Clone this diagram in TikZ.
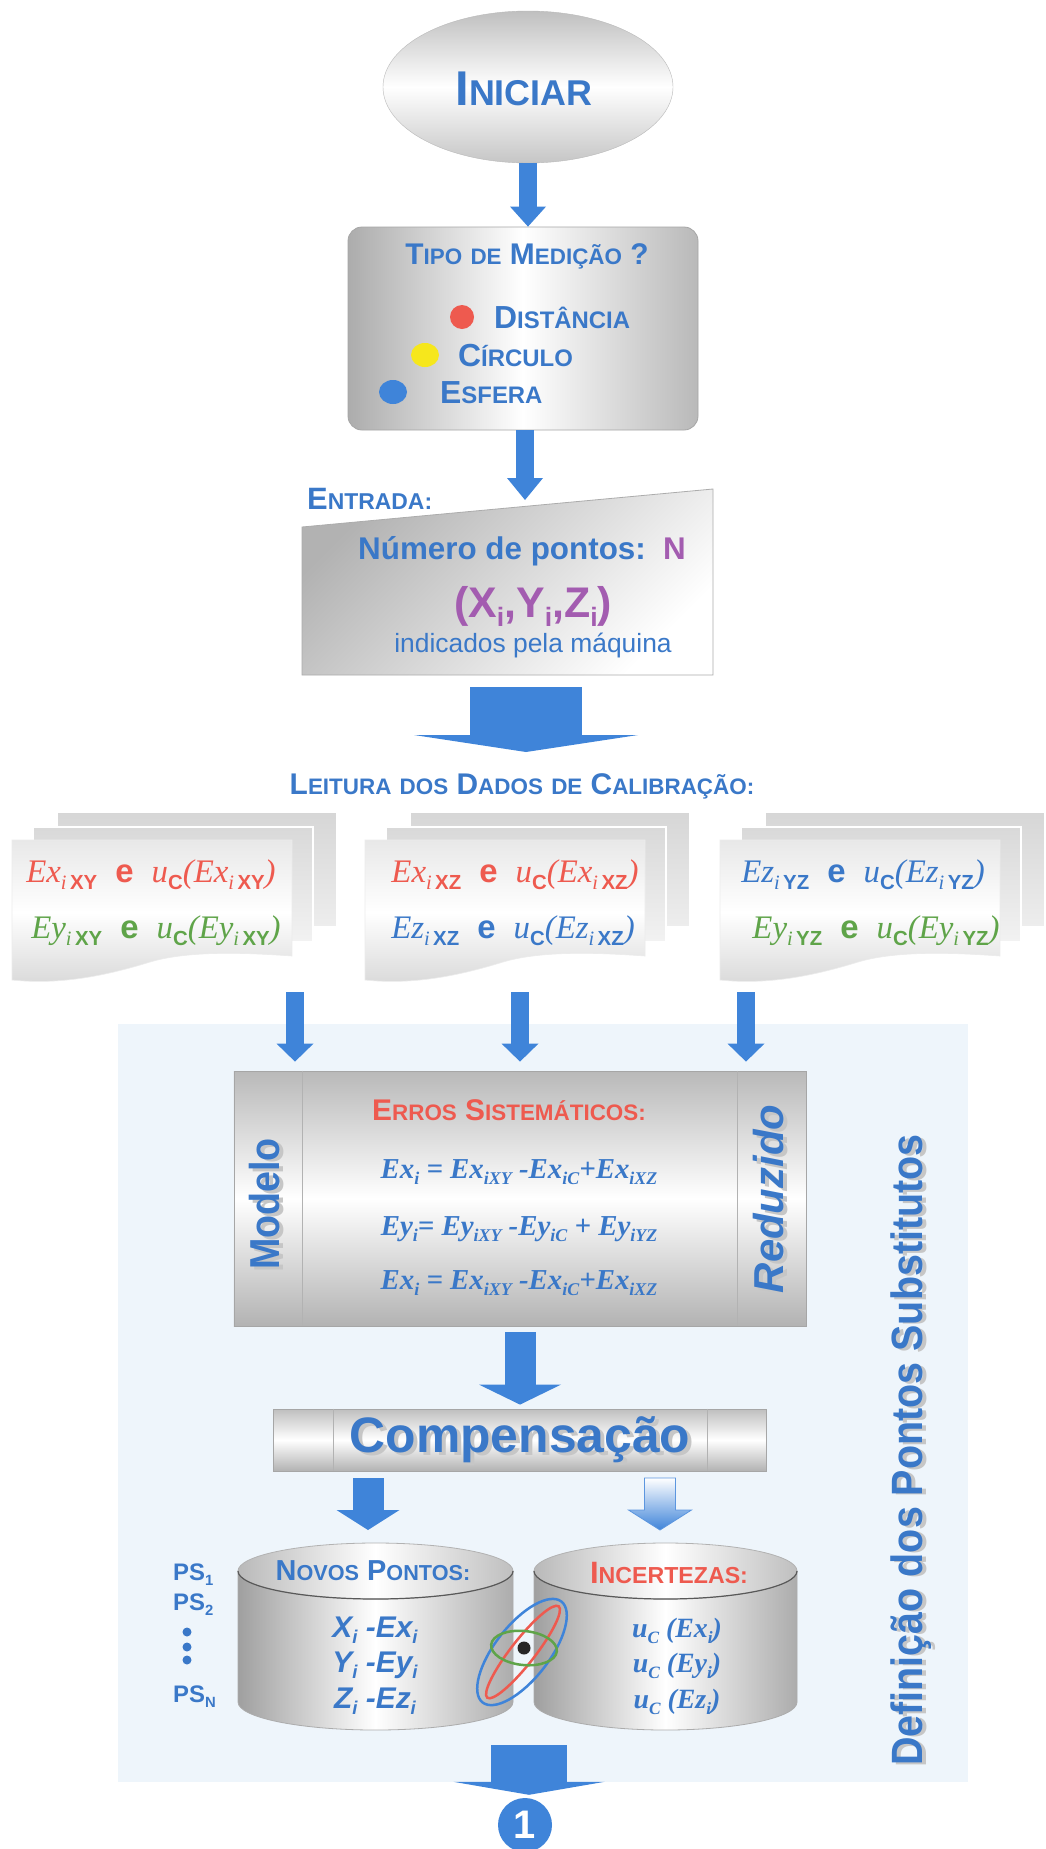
\documentclass[tikz,border=0pt]{standalone}
\usepackage{fontspec}
\setmainfont{Liberation Sans}
\newfontfamily\tms{Liberation Serif}
\usetikzlibrary{arrows.meta,shapes.geometric,calc}

\definecolor{fblue}{HTML}{3A78C8}
\definecolor{ablue}{HTML}{3F84D9}
\definecolor{fred}{HTML}{EE5A4F}
\definecolor{fgreen}{HTML}{5FA449}
\definecolor{fpurple}{HTML}{A35CB0}
\definecolor{fyellow}{HTML}{F6E71C}
\definecolor{pale}{HTML}{EEF5FB}

% font helpers
\newcommand\fs[1]{\fontsize{#1}{#1}\selectfont}
\newcommand\setsc[2]{\def\bgsz{#1}\def\smsz{#2}}
\newcommand\Bg[1]{{\fontsize{\bgsz}{\bgsz}\selectfont #1}}
\newcommand\Sm[1]{{\fontsize{\smsz}{\smsz}\selectfont #1}}
\newcommand\Sub[1]{\raisebox{-0.22em}{\scalebox{0.62}{#1}}}
\newcommand\It[1]{{\tms\itshape #1}}
\newcommand\BIt[1]{{\tms\bfseries\itshape #1}}
\newcommand\Bf[1]{{\bfseries #1}}
% text with a soft grey drop shadow: kern, drop, text
\newcommand\shadowed[3]{\leavevmode\rlap{\kern#1\raisebox{#2}{\textcolor{gray!45}{#3}}}#3}
% calibration pair: E<axis>_i <plane> e u_C(E<axis>_i <plane>)
\newcommand\pair[2]{\It{E#1}\Sub{\It{i}\,\Bf{#2}}\hspace{0.55em}\Bf{e}\hspace{0.55em}\It{u}\Sub{\Bf{C}}\It{(E#1}\Sub{\It{i}\,\Bf{#2}}\It{)}}

% database drum: centre x, x radius, name of its top point
\newcommand\drum[3]{%
  \path[draw=gray!65, line width=0.8bp, left color=gray!75, right color=gray!65, middle color=white]
    ({#1-#2},1571) -- ({#1-#2},1702) arc[start angle=180, end angle=360, x radius=#2bp, y radius=28bp]
    -- ({#1+#2},1571) -- cycle;
  \path[draw=gray!60, line width=0.8bp, left color=gray!55, right color=gray!50, middle color=white]
    (#1,1571) ellipse [x radius=#2bp, y radius=28bp];
  \draw[black!65, line width=1.2bp] ({#1-#2},1571) arc[start angle=180, end angle=360, x radius=#2bp, y radius=28bp];
  \coordinate (#3) at (#1,1543);
}

\begin{document}
\begin{tikzpicture}[x=1bp, y=-1bp,
  barrow/.style n args={3}{draw=ablue, line cap=butt, line width=#1,
     -{Triangle[width=#2, length=#3, line width=0pt]}},
  lbl/.style={inner sep=0pt, anchor=base},
  frame/.style={draw=gray!70, line width=0.8bp, inner sep=0pt},
]
\fill[white] (0,0) rectangle (1045,1849);
\useasboundingbox (0,0) rectangle (1045,1849);

% pale panel behind the lower stages
\node[fill=pale, inner sep=0pt, minimum width=850bp, minimum height=758bp, anchor=north west] (zone) at (118,1024) {};

% start
\node[ellipse, draw=gray!55, top color=gray!50, bottom color=gray!45, middle color=white,
      minimum width=290bp, minimum height=152bp, inner sep=0pt] (start) at (528,87) {};
\node[lbl, text=fblue, font=\bfseries\fs{49}] (startT) at (524,105) {\setsc{49}{36}\Bg{I}\Sm{NICIAR}};

% measurement type
\node[frame, rounded corners=14bp, minimum width=350bp, minimum height=203bp,
      left color=gray!65, right color=gray!55, middle color=white] (tipo) at (523,328.5) {};
\node[lbl, text=fblue, font=\bfseries\fs{30}] (tipoT) at (527,264)
  {\setsc{30}{22.5}\Bg{T}\Sm{IPO} \Sm{DE} \Bg{M}\Sm{EDIÇÃO} \Bg{?}};
\node[circle, fill=fred, minimum size=24bp, inner sep=0pt] (dotD) at (462,317) {};
\node[ellipse, fill=fyellow, minimum width=28bp, minimum height=24bp, inner sep=0pt] (dotC) at (425,355) {};
\node[ellipse, fill=ablue, minimum width=28bp, minimum height=24bp, inner sep=0pt] (dotE) at (393,392) {};
\node[lbl, anchor=base west, text=fblue, font=\bfseries\fs{32}] (optD) at (494,328) {\setsc{32}{24}\Bg{D}\Sm{ISTÂNCIA}};
\node[lbl, anchor=base west, text=fblue, font=\bfseries\fs{32}] (optC) at (458,366) {\setsc{32}{24}\Bg{C}\Sm{ÍRCULO}};
\node[lbl, anchor=base west, text=fblue, font=\bfseries\fs{32}] (optE) at (440,403) {\setsc{32}{24}\Bg{E}\Sm{SFERA}};

\draw[barrow={18bp}{36bp}{20bp}] (start.south) -- (start.south |- tipo.north);

% manual input
\coordinate (inptop) at (525,500);
\coordinate (inpbot) at (526,675);
\path[draw=gray!65, line width=0.8bp, top color=gray!60, bottom color=white, shading angle=45]
  (302,527) -- (713,489) -- (713,675) -- (302,675) -- cycle;
\node[lbl, anchor=base west, text=fblue, font=\bfseries\fs{31}] (entT) at (307,509) {\setsc{31}{23}\Bg{E}\Sm{NTRADA:}};
\draw[barrow={18bp}{36bp}{22bp}] (tipo.south -| inptop) -- (inptop);
\node[lbl, text=fblue, font=\bfseries\fs{31.5}] (npts) at (522,559) {Número de pontos:\hspace{0.55em}\textcolor{fpurple}{N}};
\node[lbl, text=fpurple, font=\bfseries\fs{43}] (xyz) at (533,617) {(X\Sub{i},Y\Sub{i},Z\Sub{i})};
\node[lbl, text=fblue, font=\fs{26.5}] (ind) at (533,652) {indicados pela máquina};

\coordinate (bigE) at (526,752);
\draw[barrow={112bp}{224bp}{17bp}, shorten <=12bp] (inpbot) -- (bigE);

% calibration data
\node[lbl, text=fblue, font=\bfseries\fs{30}] (leit) at (522,794)
  {\setsc{30}{22.5}\Bg{L}\Sm{EITURA} \Sm{DOS} \Bg{D}\Sm{ADOS} \Sm{DE} \Bg{C}\Sm{ALIBRAÇÃO:}};

\foreach \dx/\nm in {0/A,353/B,708/C}{
  \begin{scope}[xshift=\dx bp]
    \path[draw=white, line width=2bp, top color=gray!32, bottom color=gray!14] (57,812) rectangle (337,927);
    \path[draw=white, line width=2bp, top color=gray!30, bottom color=gray!10] (33,827) rectangle (313,942);
    \path[draw=gray!15, line width=0.6bp, top color=gray!18, bottom color=gray!30, middle color=white]
      (12,840) -- (292,840) -- (292,956) .. controls (250,953) and (190,950) .. (150,962)
      .. controls (105,976) and (60,985) .. (12,980) -- cycle;
    \coordinate (card\nm) at (152,900);
  \end{scope}
}
\node[lbl, text=fred,   font=\fs{33}] (cA1) at (151,882) {\pair{x}{XY}};
\node[lbl, text=fgreen, font=\fs{33}] (cA2) at (156,938) {\pair{y}{XY}};
\node[lbl, text=fred,   font=\fs{33}] (cB1) at (515,882) {\pair{x}{XZ}};
\node[lbl, text=fblue,  font=\fs{33}] (cB2) at (513,938) {\pair{z}{XZ}};
\node[lbl, text=fblue,  font=\fs{33}] (cC1) at (863,882) {\pair{z}{YZ}};
\node[lbl, text=fgreen, font=\fs{33}] (cC2) at (876,938) {\pair{y}{YZ}};

% systematic errors
\node[frame, top color=gray!55, bottom color=gray!60, middle color=white,
      minimum width=572bp, minimum height=255bp] (erros) at (520,1198.5) {};
\draw[gray!60] ([xshift=69bp]erros.north west) -- ([xshift=69bp]erros.south west);
\draw[gray!60] ([xshift=-69bp]erros.north east) -- ([xshift=-69bp]erros.south east);

\coordinate (dA) at (295,992);
\coordinate (dB) at (520,992);
\coordinate (dC) at (746,992);
\foreach \d in {dA,dB,dC}
  \draw[barrow={18bp}{37bp}{18bp}, shorten >=9bp] (\d) -- (\d |- erros.north);

\node[lbl, text=fred, font=\bfseries\fs{30}] (errT) at (509,1120)
  {\setsc{30}{22.5}\Bg{E}\Sm{RROS} \Bg{S}\Sm{ISTEMÁTICOS:}};
\node[lbl, text=fblue, font=\fs{29}] (eq1) at (519,1178) {\BIt{Ex\Sub{i} = Ex\Sub{iXY} -Ex\Sub{iC}+Ex\Sub{iXZ}}};
\node[lbl, text=fblue, font=\fs{29}] (eq2) at (519,1235) {\BIt{Ey\Sub{i}= Ey\Sub{iXY} -Ey\Sub{iC} + Ey\Sub{iYZ}}};
\node[lbl, text=fblue, font=\fs{29}] (eq3) at (519,1289) {\BIt{Ex\Sub{i} = Ex\Sub{iXY} -Ex\Sub{iC}+Ex\Sub{iXZ}}};

\node[rotate=90, text=fblue, font=\bfseries] (modelo) at (267,1204)
  {\scalebox{0.9}[1]{\fs{42}\shadowed{-3bp}{-4bp}{Modelo}}};
\node[rotate=90, text=fblue, font=\bfseries\itshape\fs{42}] (reduz) at (771,1199)
  {\shadowed{-3bp}{-4bp}{Reduzido}};

% compensation
\node[frame, top color=gray!50, bottom color=gray!60, middle color=white,
      minimum width=493bp, minimum height=62bp] (comp) at (519.5,1440) {};
\draw[gray!60] ([xshift=61bp]comp.north west) -- ([xshift=61bp]comp.south west);
\draw[gray!60] ([xshift=-59bp]comp.north east) -- ([xshift=-59bp]comp.south east);
\draw[barrow={31bp}{82bp}{20bp}, shorten <=6bp, shorten >=4bp] (erros.south) -- (erros.south |- comp.north);
\node[lbl, text=fblue, font=\bfseries\fs{50}] (compT) at (520,1452) {\shadowed{4bp}{-3bp}{Compensação}};

% result drums
\drum{375.5}{137.5}{drumL}
\drum{665.5}{131.5}{drumR}

\coordinate (dL) at (368,1478);
\coordinate (dR) at (660,1478);
\draw[barrow={31bp}{63bp}{20bp}, shorten >=13bp] (dL) -- (dL |- drumL);
\coordinate (dRe) at (660,1530);
\path[draw=ablue!85, line width=0.8bp, top color=white, bottom color=ablue]
  ($(dR)+(-15.5,0)$) -- ($(dR)+(15.5,0)$) -- ($(dRe)+(15.5,-20)$) -- ($(dRe)+(31.5,-20)$)
  -- (dRe) -- ($(dRe)+(-31.5,-20)$) -- ($(dRe)+(-15.5,-20)$) -- cycle;

\node[lbl, text=fblue, font=\bfseries\fs{29}] (novT) at (373,1580) {\setsc{29}{21.75}\Bg{N}\Sm{OVOS} \Bg{P}\Sm{ONTOS:}};
\node[lbl, text=fred, font=\bfseries\fs{31}] (incT) at (669,1583) {\setsc{31}{23.25}\Bg{I}\Sm{NCERTEZAS:}};
\node[lbl, text=fblue, font=\bfseries\itshape\fs{30}] (nx) at (375,1637) {X\Sub{i} -Ex\Sub{i}};
\node[lbl, text=fblue, font=\bfseries\itshape\fs{30}] (ny) at (375,1672) {Y\Sub{i} -Ey\Sub{i}};
\node[lbl, text=fblue, font=\bfseries\itshape\fs{30}] (nz) at (375,1708) {Z\Sub{i} -Ez\Sub{i}};
\node[lbl, text=fblue, font=\fs{28}] (ux) at (677,1637) {\BIt{u\Sub{C} (Ex\Sub{i})}};
\node[lbl, text=fblue, font=\fs{28}] (uy) at (677,1672) {\BIt{u\Sub{C} (Ey\Sub{i})}};
\node[lbl, text=fblue, font=\fs{28}] (uz) at (677,1708) {\BIt{u\Sub{C} (Ez\Sub{i})}};

% uncertainty ellipses
\draw[ablue, line width=2.5bp, rotate around={52:(522,1652)}] (522,1652) ellipse [x radius=64bp, y radius=27bp];
\draw[fred, line width=2.5bp, rotate around={52:(523,1652)}] (523,1652) ellipse [x radius=58bp, y radius=12bp];
\draw[fgreen, line width=2.5bp, rotate around={-6:(524,1648)}] (524,1648) ellipse [x radius=33bp, y radius=17bp];
\node[circle, fill=black!85, minimum size=13bp, inner sep=0pt] (ctr) at (524,1648) {};

% substitute points
\node[lbl, anchor=base west, text=fblue, font=\bfseries\fs{24}] (ps1) at (173,1580) {PS\Sub{1}};
\node[lbl, anchor=base west, text=fblue, font=\bfseries\fs{24}] (ps2) at (173,1610) {PS\Sub{2}};
\node[lbl, anchor=base west, text=fblue, font=\bfseries\fs{24}] (psn) at (173,1702) {PS\Sub{N}};
\foreach \yy/\nm in {1632/a,1647/b,1660/c}
  \node[circle, fill=fblue, minimum size=9bp, inner sep=0pt] (psdot\nm) at (187,\yy) {};

% continuation
\node[circle, fill=ablue, minimum size=54bp, inner sep=0pt, text=white, font=\bfseries\fs{40}] (one) at (525,1825) {1};
\coordinate (fin) at (529,1745);
\draw[barrow={76bp}{151bp}{13bp}, shorten >=3bp] (fin) -- (fin |- one.north);

% side title
\node[rotate=90, text=fblue, font=\bfseries] (side) at (913,1450)
  {\scalebox{0.9}[1]{\fs{44}\shadowed{-2bp}{-4bp}{Definição dos Pontos Substitutos}}};
\end{tikzpicture}
\end{document}
